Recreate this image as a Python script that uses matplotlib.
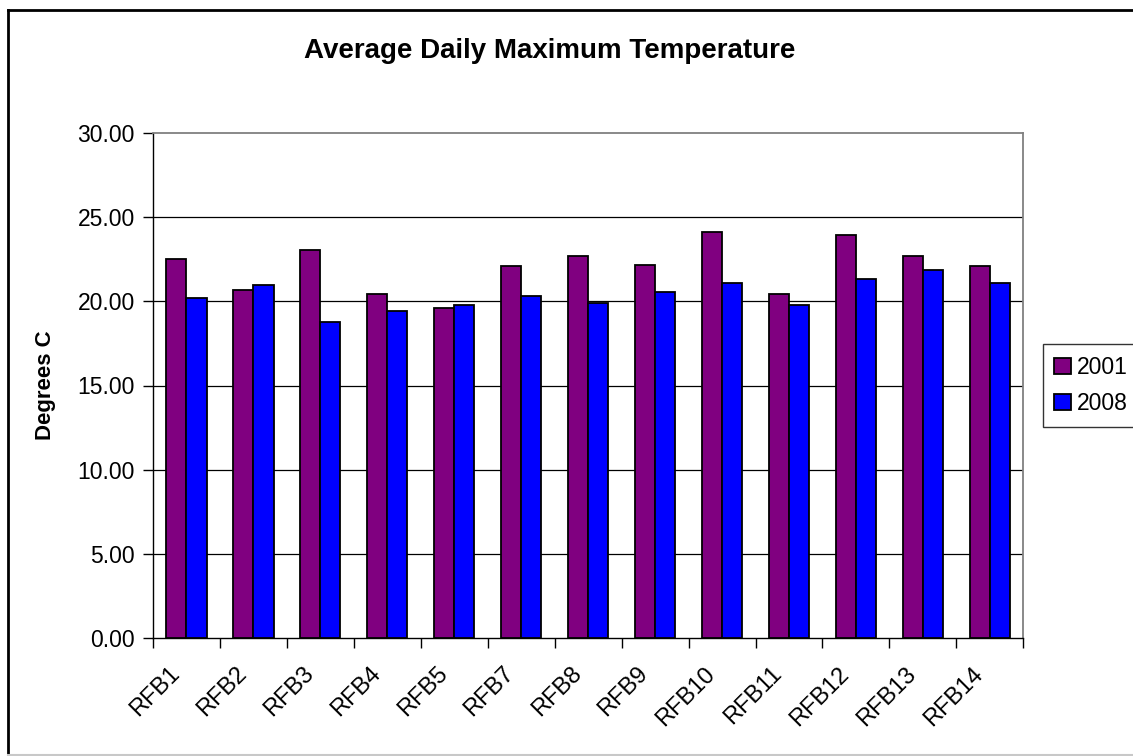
import matplotlib
matplotlib.use("Agg")
import matplotlib.pyplot as plt
import matplotlib.transforms as mtransforms
import numpy as np
from matplotlib.lines import Line2D

categories = ["RFB1", "RFB2", "RFB3", "RFB4", "RFB5", "RFB7", "RFB8",
              "RFB9", "RFB10", "RFB11", "RFB12", "RFB13", "RFB14"]
vals_2001 = [22.51, 20.66, 23.05, 20.43, 19.59, 22.08, 22.70,
             22.16, 24.12, 20.43, 23.93, 22.70, 22.08]
vals_2008 = [20.21, 20.97, 18.75, 19.45, 19.80, 20.33, 19.88,
             20.54, 21.09, 19.80, 21.32, 21.85, 21.09]
series_names = ["2001", "2008"]
yticks = [0, 5, 10, 15, 20, 25, 30]

plt.rcParams['font.family'] = ['Liberation Sans', 'DejaVu Sans']

W, H = 1133, 756
fig = plt.figure(figsize=(W / 100, H / 100), dpi=100)
ax = fig.add_axes([153 / W, 1 - 638.3 / H, (1023.3 - 153) / W, (638.3 - 132.7) / H])

x = np.arange(len(categories))
bw = 0.3
ax.bar(x - bw / 2, vals_2001, width=bw, color="#800080", edgecolor="black",
       linewidth=1.3, label=series_names[0], zorder=3)
ax.bar(x + bw / 2, vals_2008, width=bw, color="#0000FF", edgecolor="black",
       linewidth=1.3, label=series_names[1], zorder=3)

ax.set_xlim(-0.5, len(categories) - 0.5)
ax.set_ylim(0, 30)
ax.set_yticks(yticks)
ax.set_yticklabels([f"{v:.2f}" for v in yticks], fontsize=16.5)
for v in yticks[1:-1]:
    ax.axhline(v, color="black", lw=0.9, zorder=1)

ax.set_xticks(x)
ax.set_xticklabels(categories, fontsize=17, rotation=45, ha="right",
                   rotation_mode="anchor")
ax.tick_params(axis="x", which="major", length=0, pad=14)
ax.set_xticks(np.arange(len(categories) + 1) - 0.5, minor=True)
ax.tick_params(axis="x", which="minor", length=7, width=1, direction="out")
ax.tick_params(axis="y", length=7, width=1, direction="out", pad=6)

offset = mtransforms.ScaledTranslation(-18 / 100, -5 / 100, fig.dpi_scale_trans)
for lbl in ax.get_xticklabels():
    lbl.set_transform(lbl.get_transform() + offset)

for s in ["top", "right"]:
    ax.spines[s].set_color("#808080")
    ax.spines[s].set_linewidth(1.3)
for s in ["left", "bottom"]:
    ax.spines[s].set_color("black")
    ax.spines[s].set_linewidth(1.0)

fig.text(550 / W, 1 - 58 / H, "Average Daily Maximum Temperature",
         ha="center", va="baseline", fontsize=20, fontweight="bold")
fig.text(45 / W, 1 - 385 / H, "Degrees C", rotation=90, ha="center",
         va="center", fontsize=16, fontweight="bold")

leg = fig.legend(loc="center left", bbox_to_anchor=(1043 / W, 1 - 385.5 / H),
                 fontsize=16.5, frameon=True, fancybox=False, handlelength=0.7,
                 handleheight=0.7, handletextpad=0.3, borderpad=0.5,
                 labelspacing=0.6, borderaxespad=0)
leg.get_frame().set_edgecolor("black")
leg.get_frame().set_linewidth(1.0)

# outer chart frame
fig.add_artist(Line2D([8 / W, 8 / W], [1 - 756 / H, 1 - 9.5 / H],
                      transform=fig.transFigure, color="black", lw=2))
fig.add_artist(Line2D([8 / W, 1.0], [1 - 9.5 / H, 1 - 9.5 / H],
                      transform=fig.transFigure, color="black", lw=2))
fig.add_artist(Line2D([8 / W, 1.0], [1 - 755 / H, 1 - 755 / H],
                      transform=fig.transFigure, color="#c8c8c8", lw=1.5))

fig.savefig("out.png", dpi=100)
